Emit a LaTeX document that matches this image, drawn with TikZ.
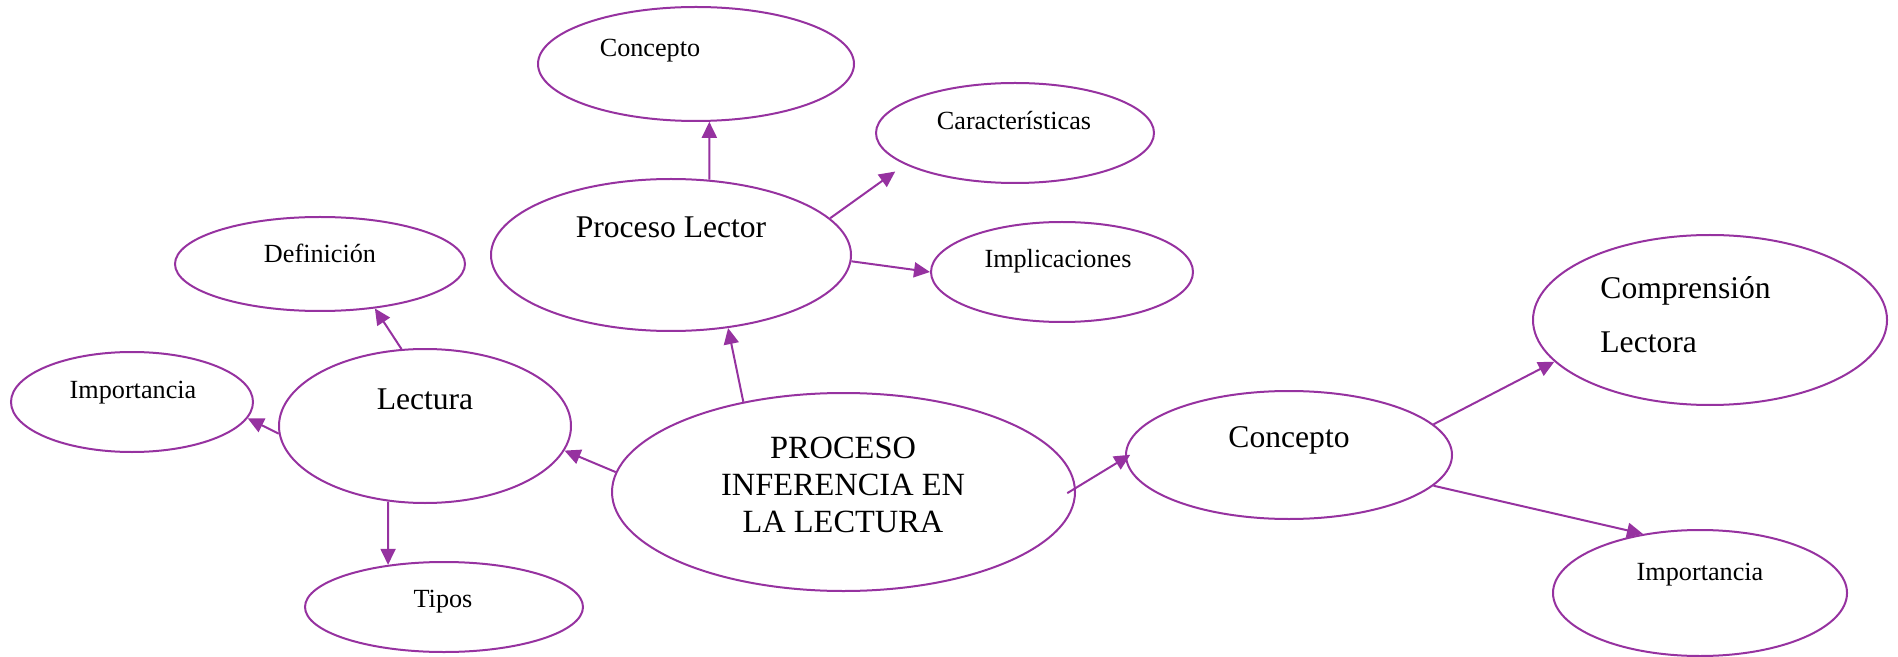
\documentclass[tikz,border=0pt]{standalone}
\usepackage{fontspec}
\setmainfont{Liberation Serif}
\usetikzlibrary{shapes.geometric,arrows.meta}
\definecolor{mapline}{RGB}{150,50,160}
\tikzset{
  bubble/.style={ellipse,draw=mapline,line width=1pt,inner sep=0pt},
  bigtxt/.style={font=\fontsize{15.8}{19}\selectfont,inner sep=0pt,anchor=base},
  smalltxt/.style={font=\fontsize{13.1}{16}\selectfont,inner sep=0pt,anchor=base},
  link/.style={draw=mapline,line width=1pt,-{Triangle[length=8pt,width=7.5pt]}}
}

\begin{document}
\begin{tikzpicture}[x=0.5pt,y=-0.5pt]
  \useasboundingbox (0,0) rectangle (1898,657);
  % ellipses
  \node[bubble,minimum width=231.5pt,minimum height=99pt] (proc) at (843.5,492) {};
  \node[bubble,minimum width=180pt,minimum height=76pt] (lector) at (671,255) {};
  \node[bubble,minimum width=158pt,minimum height=57pt] (cptA) at (696,64) {};
  \node[bubble,minimum width=139pt,minimum height=50pt] (carac) at (1015,133) {};
  \node[bubble,minimum width=131pt,minimum height=50pt] (impl) at (1062,272) {};
  \node[bubble,minimum width=145pt,minimum height=47pt] (defin) at (320,264) {};
  \node[bubble,minimum width=121pt,minimum height=50pt] (impA) at (132,402) {};
  \node[bubble,minimum width=146pt,minimum height=77pt] (lect) at (425,426) {};
  \node[bubble,minimum width=139pt,minimum height=45pt] (tipos) at (444,607) {};
  \node[bubble,minimum width=163pt,minimum height=64pt] (cptB) at (1289,455) {};
  \node[bubble,minimum width=177pt,minimum height=85pt] (compr) at (1710,320) {};
  \node[bubble,minimum width=147pt,minimum height=63pt] (impB) at (1700,593) {};
  % texts
  \node[font=\fontsize{16.2}{18.3}\selectfont,align=center,inner sep=0pt] (proc-t) at (843,485) {PROCESO\\INFERENCIA EN\\LA LECTURA};
  \node[bigtxt] (lector-t) at (671,238) {Proceso Lector};
  \node[smalltxt] (cptA-t) at (650,57) {Concepto};
  \node[smalltxt] (carac-t) at (1014,130) {Características};
  \node[smalltxt] (impl-t) at (1058,268) {Implicaciones};
  \node[smalltxt] (defin-t) at (320,263) {Definición};
  \node[smalltxt] (impA-t) at (133,398) {Importancia};
  \node[bigtxt] (lect-t) at (425,409) {Lectura};
  \node[smalltxt] (tipos-t) at (443,607) {Tipos};
  \node[bigtxt] (cptB-t) at (1289,447) {Concepto};
  \node[font=\fontsize{15.8}{27}\selectfont,align=left,inner sep=0pt,anchor=west] (compr-t) at (1600,315) {Comprensión\\Lectora};
  \node[smalltxt] (impB-t) at (1700,580) {Importancia};
  % arrows
  \draw[link] (lector.63) -- (cptA.-77);
  \draw[link,shorten >=6pt] (lector.13) -- (carac.196);
  \draw[link] (lector.-2) -- (impl.180);
  \draw[link] (proc.138) -- (lector.-52);
  \draw[link] (proc.175) -- (lect.-10);
  \draw[link,shorten <=-5pt,shorten >=-3pt] (proc.1) -- (cptB.181);
  \draw[link] (lect.107) -- (defin.-39);
  \draw[link] (lect.183) -- (impA.-8);
  \draw[link] (lect.-116) -- (tipos.143);
  \draw[link] (cptB.12) -- (compr.195);
  \draw[link] (cptB.-12) -- (impB.134);
\end{tikzpicture}
\end{document}
